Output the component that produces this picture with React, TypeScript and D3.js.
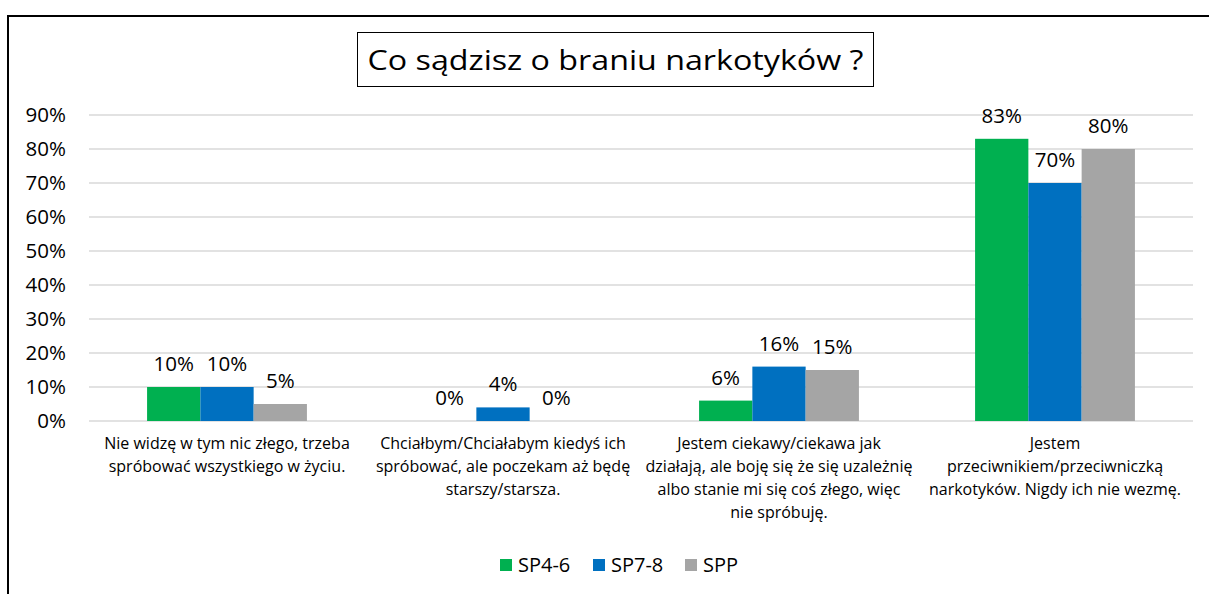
import React from "react";
import * as d3 from "d3";

const categories = [
  ["Nie widzę w tym nic złego, trzeba", "spróbować wszystkiego w życiu."],
  ["Chciałbym/Chciałabym kiedyś ich", "spróbować, ale poczekam aż będę", "starszy/starsza."],
  ["Jestem ciekawy/ciekawa jak", "działają, ale boję się że się uzależnię", "albo stanie mi się coś złego, więc", "nie spróbuję."],
  ["Jestem", "przeciwnikiem/przeciwniczką", "narkotyków. Nigdy ich nie wezmę."],
];
const seriesNames = ["SP4-6", "SP7-8", "SPP"];
const seriesColors = ["#00B050", "#0070C0", "#A5A5A5"];
const sp46 = [10, 0, 6, 83];
const sp78 = [10, 4, 16, 70];
const spp = [5, 0, 15, 80];
const yTicks = [0, 10, 20, 30, 40, 50, 60, 70, 80, 90];
const title = "Co sądzisz o braniu narkotyków ?";

const W = 1209;
const H = 594;
const FONT = "'Open Sans', 'Liberation Sans', sans-serif";

export default function App() {
  const series = [sp46, sp78, spp];
  const x0 = d3.scaleBand<number>().domain(d3.range(categories.length)).range([89, 1193]).paddingInner(0).paddingOuter(0);
  const x1 = d3.scaleBand<number>().domain(d3.range(series.length)).range([0, x0.bandwidth()]).paddingInner(0).paddingOuter(1.09);
  const y = d3.scaleLinear().domain([0, 90]).range([421, 115]);

  return (
    <svg width={W} height={H} style={{ position: "absolute", left: 0, top: 0, display: "block" }} fontFamily={FONT}>
      <rect x={0} y={0} width={W} height={H} fill="#fff" />
      <rect x={8} y={16} width={W} height={H} fill="none" stroke="#000" strokeWidth={2} />
      <rect x={357.5} y={32.5} width={516} height={54} fill="#fff" stroke="#000" strokeWidth={1} />
      <text x={615.5} y={70} textAnchor="middle" fontSize={28} fill="#000" textLength={496} lengthAdjust="spacingAndGlyphs">{title}</text>
      {yTicks.map((t) => (
        <g key={t}>
          <line x1={89} x2={1193} y1={y(t)} y2={y(t)} stroke="#D9D9D9" strokeWidth={1.5} />
          <text x={66} y={y(t) + 7} textAnchor="end" fontSize={20.5} fill="#000">{t}%</text>
        </g>
      ))}
      {categories.map((lines, ci) => (
        <g key={ci}>
          {series.map((s, si) => {
            const bx = (x0(ci) as number) + (x1(si) as number);
            const v = s[ci];
            return (
              <g key={si}>
                <rect x={bx} y={y(v)} width={x1.bandwidth()} height={y(0) - y(v)} fill={seriesColors[si]} />
                <text x={bx + x1.bandwidth() / 2} y={y(v) - 16} textAnchor="middle" fontSize={20.5} fill="#000">{v}%</text>
              </g>
            );
          })}
          {lines.map((ln, li) => (
            <text key={li} x={(x0(ci) as number) + x0.bandwidth() / 2} y={448.5 + li * 23.3} textAnchor="middle" fontSize={16} fill="#000">{ln}</text>
          ))}
        </g>
      ))}
      {seriesNames.map((n, i) => {
        const lx = [500, 593, 685][i];
        return (
          <g key={n}>
            <rect x={lx} y={559} width={12} height={12} fill={seriesColors[i]} />
            <text x={lx + 18} y={572} fontSize={20} fill="#000">{n}</text>
          </g>
        );
      })}
    </svg>
  );
}
